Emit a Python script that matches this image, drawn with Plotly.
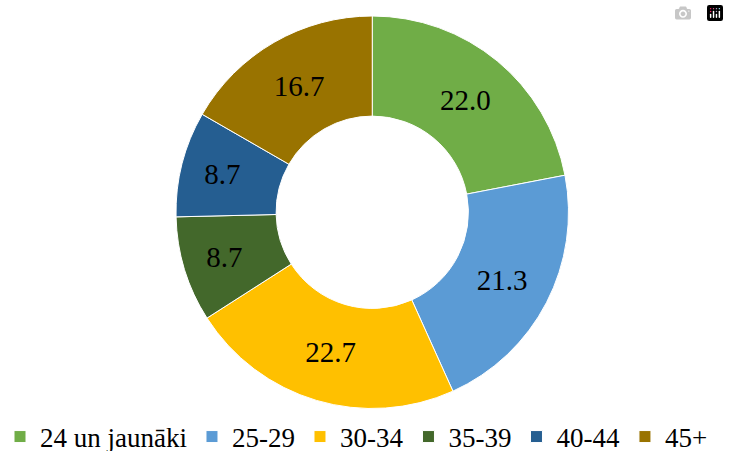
import plotly.graph_objects as go

categories = ["24 un jaunāki", "25-29", "30-34", "35-39", "40-44", "45+"]
values = [22.0, 21.3, 22.7, 8.7, 8.7, 16.7]
colors = ["#70AD47", "#5B9BD5", "#FFC000", "#43682B", "#255E91", "#997300"]

W, H = 729, 451
SERIF = "Liberation Serif"

fig = go.Figure(go.Pie(
    labels=categories,
    values=values,
    hole=0.49,
    sort=False,
    direction="clockwise",
    rotation=0,
    domain=dict(x=[175.5 / W, 569 / W], y=[1 - 408.5 / H, 1 - 16 / H]),
    marker=dict(colors=colors, line=dict(color="white", width=1)),
    texttemplate="%{value:.1f}",
    textposition="inside",
    insidetextorientation="horizontal",
    textfont=dict(family=SERIF, size=29, color="black"),
    hoverinfo="label+value",
))

fig.update_layout(
    width=W, height=H,
    margin=dict(l=0, r=0, t=0, b=0, autoexpand=False),
    font=dict(family=SERIF, color="black"),
    paper_bgcolor="white",
    plot_bgcolor="white",
    showlegend=True,
    legend=dict(
        orientation="h",
        x=0.0, xanchor="left",
        y=(H - 437) / H, yanchor="middle",
        font=dict(family=SERIF, size=27, color="black"),
        itemwidth=30,
        traceorder="normal",
        bgcolor="rgba(0,0,0,0)",
    ),
    uniformtext=dict(minsize=10, mode="show"),
)

fig.write_html(
    "out.html",
    post_script="document.body.style.margin='0px';document.body.style.padding='0px';",
)
